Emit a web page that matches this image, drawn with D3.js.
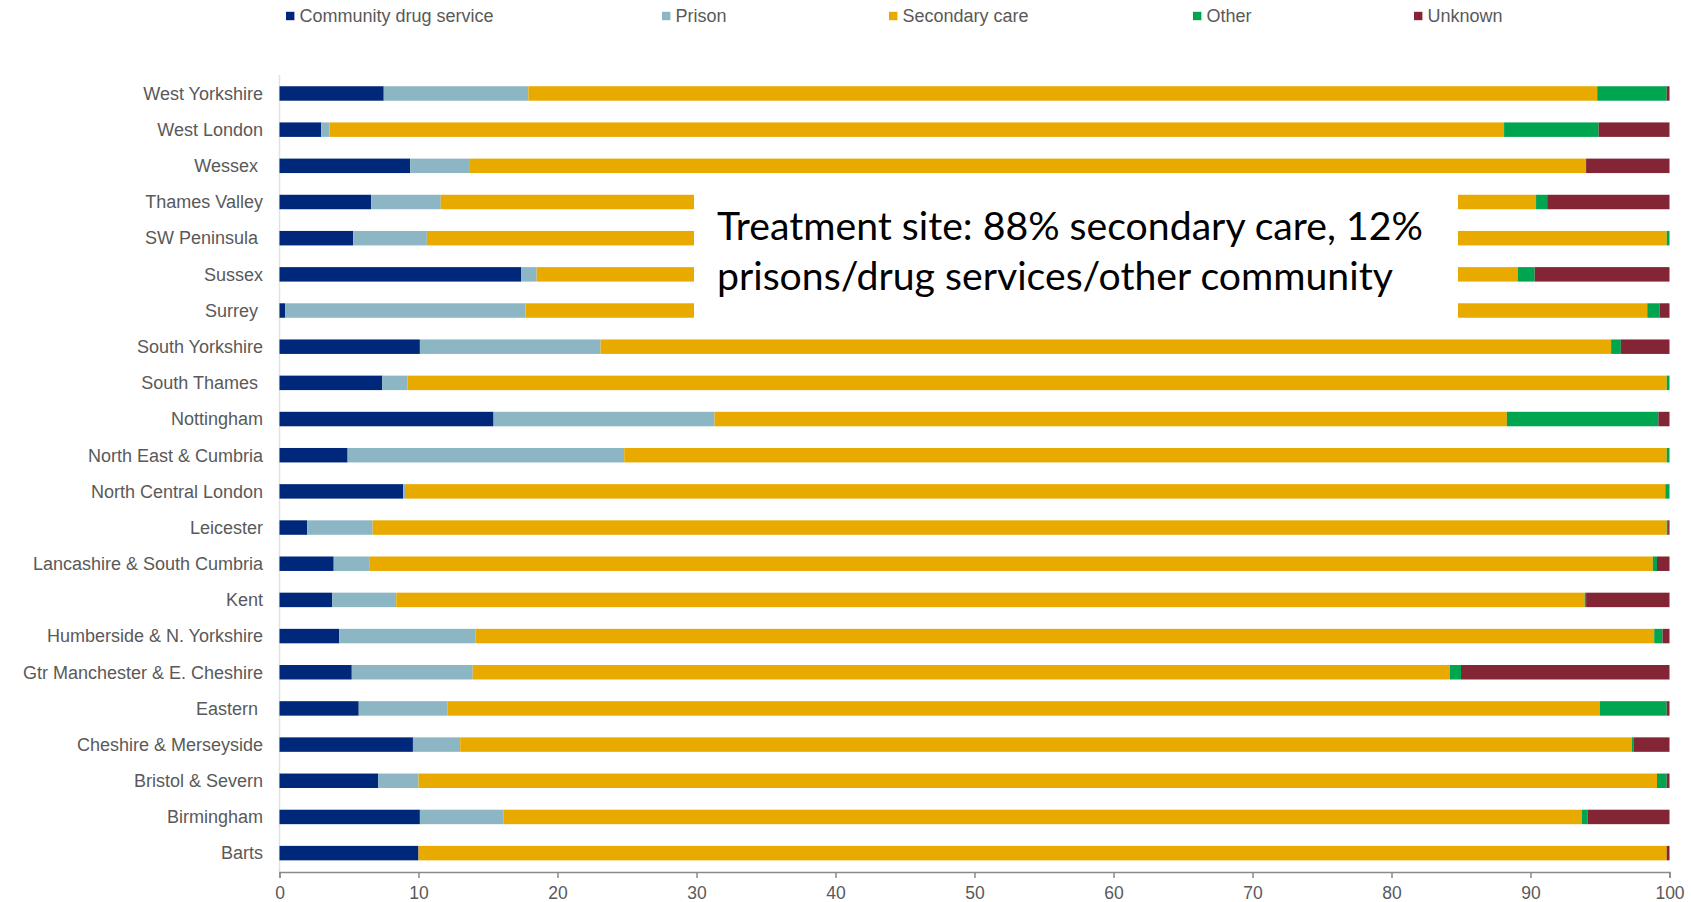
<!DOCTYPE html>
<html>
<head>
<meta charset="utf-8">
<script src="https://cdn.jsdelivr.net/npm/d3@7"></script>
<style>
  html, body { margin: 0; padding: 0; background: #fff; }
  svg { display: block; }
  text { white-space: pre; }
</style>
</head>
<body>
<svg id="chart" width="1691" height="902"></svg>
<script>
// ---- data (top to bottom) ----
const regions = ["West Yorkshire", "West London", "Wessex ", "Thames Valley", "SW Peninsula ", "Sussex", "Surrey ",
  "South Yorkshire", "South Thames ", "Nottingham", "North East & Cumbria", "North Central London", "Leicester",
  "Lancashire & South Cumbria", "Kent", "Humberside & N. Yorkshire", "Gtr Manchester & E. Cheshire", "Eastern ",
  "Cheshire & Merseyside", "Bristol & Severn", "Birmingham", "Barts"];
const communityDrugService = [7.5, 3.0, 9.4, 6.6, 5.3, 17.4, 0.4, 10.1, 7.4, 15.4, 4.9, 8.9, 2.0, 3.9, 3.8, 4.3, 5.2, 5.7, 9.6, 7.1, 10.1, 10.0];
const prison               = [10.4, 0.6, 4.3, 5.0, 5.3, 1.1, 17.3, 13.0, 1.8, 15.9, 19.9, 0.2, 4.7, 2.6, 4.6, 9.8, 8.7, 6.4, 3.4, 2.9, 6.0, 0.0];
const secondaryCare        = [76.9, 84.5, 80.3, 78.8, 89.2, 70.6, 80.7, 72.7, 90.6, 57.0, 75.0, 90.6, 93.1, 92.3, 85.5, 84.8, 70.3, 82.9, 84.3, 89.1, 77.6, 89.8];
const other                = [5.0, 6.8, 0.0, 0.8, 0.2, 1.2, 0.9, 0.7, 0.2, 10.9, 0.2, 0.3, 0.1, 0.3, 0.1, 0.6, 0.8, 4.8, 0.1, 0.7, 0.4, 0.0];
const unknown              = [0.2, 5.1, 6.0, 8.8, 0.0, 9.7, 0.7, 3.5, 0.0, 0.8, 0.0, 0.0, 0.1, 0.9, 6.0, 0.5, 15.0, 0.2, 2.6, 0.2, 5.9, 0.2];
const seriesNames = ["Community drug service", "Prison", "Secondary care", "Other", "Unknown"];
const xTicks = [0, 10, 20, 30, 40, 50, 60, 70, 80, 90, 100];
const noteLines = ["Treatment site: 88% secondary care, 12%", "prisons/drug services/other community"];

// ---- build table ----
const keys = ["cds", "prison", "sec", "other", "unk"];
const seriesArrays = [communityDrugService, prison, secondaryCare, other, unknown];
const colors = ["#00287A", "#8CB6C4", "#E9AA00", "#00A550", "#832534"];
const table = regions.map((r, i) => {
  const o = { region: r };
  keys.forEach((k, j) => o[k] = seriesArrays[j][i]);
  return o;
});

const svg = d3.select("#chart");
const x = d3.scaleLinear().domain([0, 100]).range([279.5, 1669.5]);
const y = d3.scaleBand().domain(regions).range([75.4, 871.2]).paddingInner(0.6).paddingOuter(0.3);
const color = d3.scaleOrdinal().domain(keys).range(colors);

// light y-axis line
svg.append("line")
  .attr("x1", x(0)).attr("x2", x(0))
  .attr("y1", 75).attr("y2", 872)
  .attr("stroke", "#e2e2e2").attr("stroke-width", 1.5);

// stacked bars
const stack = d3.stack().keys(keys);
const layers = stack(table);
svg.append("g").selectAll("g")
  .data(layers).join("g")
  .attr("fill", d => color(d.key))
  .selectAll("rect")
  .data(d => d).join("rect")
  .attr("x", d => x(d[0]))
  .attr("width", d => Math.max(0, x(d[1]) - x(d[0])))
  .attr("y", d => y(d.data.region))
  .attr("height", y.bandwidth());

// y labels
svg.append("g").selectAll("text")
  .data(regions).join("text")
  .attr("x", 263)
  .attr("y", d => y(d) + y.bandwidth() / 2)
  .attr("dy", "0.35em")
  .attr("text-anchor", "end")
  .attr("font-family", "Liberation Sans, Arial, sans-serif")
  .attr("font-size", 18)
  .attr("fill", "#595959")
  .text(d => d);

// x axis
const xAxis = svg.append("g")
  .attr("transform", "translate(0,872)")
  .call(d3.axisBottom(x).tickValues(xTicks).tickSize(6).tickPadding(9).tickFormat(d3.format("d")));
xAxis.select(".domain").attr("stroke", "#8a8a8a").attr("stroke-width", 1.5);
xAxis.selectAll(".tick line").attr("stroke", "#8a8a8a").attr("stroke-width", 1.5);
xAxis.selectAll(".tick text")
  .attr("font-family", "Liberation Sans, Arial, sans-serif")
  .attr("font-size", 17.5)
  .attr("fill", "#595959");

// legend
const legendX = [286, 662, 889, 1193, 1414];
const lg = svg.append("g").selectAll("g")
  .data(seriesNames).join("g")
  .attr("transform", (d, i) => `translate(${legendX[i]},16)`);
lg.append("rect")
  .attr("x", 0).attr("y", -4.2).attr("width", 8.4).attr("height", 8.4)
  .attr("fill", (d, i) => colors[i]);
lg.append("text")
  .attr("x", 13.5).attr("y", 0).attr("dy", "0.35em")
  .attr("font-family", "Liberation Sans, Arial, sans-serif")
  .attr("font-size", 18)
  .attr("fill", "#595959")
  .text(d => d);

// annotation box
svg.append("rect")
  .attr("x", 694).attr("y", 184).attr("width", 764).attr("height", 142)
  .attr("fill", "#fff");
const note = svg.append("g");
const noteText = note.selectAll("text")
  .data(noteLines).join("text")
  .attr("x", 717)
  .attr("y", (d, i) => 240 + i * 50)
  .attr("font-family", "Lato, 'Open Sans', sans-serif")
  .attr("font-size", 40)
  .attr("fill", "#000")
  .text(d => d);
// fit first line width to ~706px
const w0 = noteText.nodes()[0].getComputedTextLength();
const fs = 40 * 706 / w0;
noteText.attr("font-size", fs);
</script>
</body>
</html>
